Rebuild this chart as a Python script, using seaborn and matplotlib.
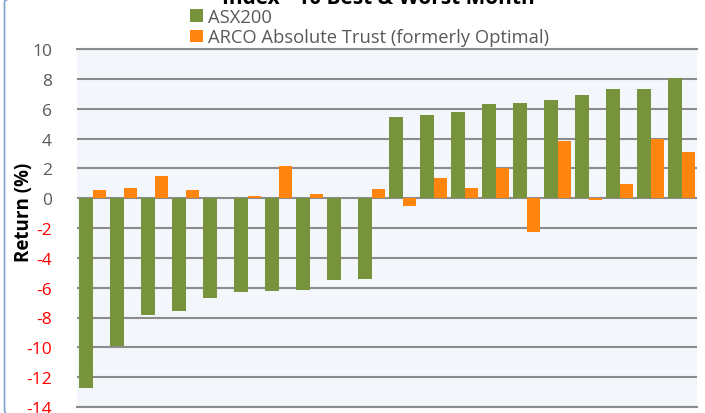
import numpy as np
import pandas as pd
import seaborn as sns
import matplotlib.pyplot as plt
from matplotlib.patches import FancyBboxPatch, Patch

# 10 worst and 10 best ASX200 months, with ARCO return in the same month
months = [f"M{i + 1}" for i in range(20)]
asx200 = [-12.7, -9.9, -7.85, -7.55, -6.7, -6.3, -6.25, -6.15, -5.5, -5.4,
          5.45, 5.6, 5.8, 6.3, 6.35, 6.6, 6.9, 7.3, 7.35, 8.05]
arco = [0.55, 0.65, 1.5, 0.55, 0.0, 0.15, 2.15, 0.25, 0.03, 0.6,
        -0.5, 1.35, 0.65, 2.05, -2.25, 3.85, -0.1, 0.95, 4.0, 3.1]
series_names = ["ASX200", "ARCO Absolute Trust (formerly Optimal)"]
yticks = list(range(-14, 11, 2))

df = pd.DataFrame({
    "month": months * 2,
    "series": [series_names[0]] * 20 + [series_names[1]] * 20,
    "ret": asx200 + arco,
})

sns.set_style("white")
plt.rcParams["font.family"] = ["Open Sans", "DejaVu Sans"]

green = "#77933C"
orange = "#FF850F"
grid_c = "#8C8C8C"
text_c = "#595959"

fig = plt.figure(figsize=(7.05, 4.14), dpi=100)
ax = fig.add_axes([77 / 705, 6 / 414, 620 / 705, 358 / 414])
ax.set_facecolor("#F3F6FB")

sns.barplot(data=df, x="month", y="ret", hue="series", order=months,
            hue_order=series_names, palette=[green, orange], width=0.84,
            linewidth=0, saturation=1, legend=False, ax=ax)

ax.set_ylim(-14, 10)
ax.set_xlim(-0.5, 19.5)
ax.set_yticks(yticks)
ax.set_yticklabels([str(t) for t in yticks], fontsize=12.5)
for lab, t in zip(ax.get_yticklabels(), yticks):
    lab.set_color("red" if t < 0 else text_c)
ax.tick_params(axis="y", length=0, pad=18)
ax.set_xticks([])
ax.set_xlabel("")
ax.set_ylabel("")
ax.yaxis.grid(True, color=grid_c, linewidth=1.5)
ax.set_axisbelow(True)
for s in ["left", "right"]:
    ax.spines[s].set_visible(False)
for s in ["top", "bottom"]:
    ax.spines[s].set_color(grid_c)
    ax.spines[s].set_linewidth(1.5)

fig.text(24 / 705, 1 - 212 / 414, "Return (%)", rotation=90, ha="center",
         va="center", fontsize=13.5, fontweight="bold", color="black")

# title is cut off at the top of the image
fig.text(0.537, 1 - 4 / 414, "Index - 10 Best & Worst Month", ha="center",
         va="baseline", fontsize=15, fontweight="bold", color="black")

handles = [Patch(facecolor=green, edgecolor="none"),
           Patch(facecolor=orange, edgecolor="none")]
fig.legend(handles, series_names, loc="upper left",
           bbox_to_anchor=(186 / 705, 1 - 5 / 414), frameon=False,
           fontsize=13.2, labelcolor=text_c, handlelength=0.7,
           handleheight=0.7, handletextpad=0.3, labelspacing=0.15,
           borderpad=0.2, borderaxespad=0)

# rounded chart border, mostly outside the image
border = FancyBboxPatch((4.5 / 705, -12 / 414), 730 / 705, 440 / 414,
                        boxstyle="round,pad=0,rounding_size=0.04",
                        transform=fig.transFigure, facecolor="none",
                        edgecolor="#7FA1D0", linewidth=1.2, clip_on=False)
fig.add_artist(border)

fig.savefig("out.png", dpi=100)
